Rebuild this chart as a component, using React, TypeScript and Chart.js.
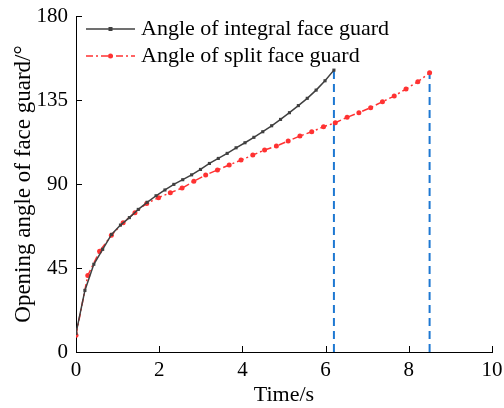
import React, { useEffect, useRef } from "react";
import { Chart, registerables } from "chart.js";

Chart.register(...registerables);

// Time samples (s) and opening angle (°) for the integral face guard
const integralTime = [
  0, 0.214, 0.428, 0.641, 0.855, 1.069, 1.283, 1.497, 1.71, 1.924,
  2.138, 2.352, 2.566, 2.779, 2.993, 3.207, 3.421, 3.634, 3.848, 4.062,
  4.276, 4.49, 4.703, 4.917, 5.131, 5.345, 5.559, 5.772, 5.986, 6.2,
];
const integralAngle = [
  10, 33, 47, 55, 63, 68, 72, 76.4, 80.2, 83.7,
  86.8, 89.8, 92.3, 94.9, 97.8, 101, 103.7, 106.4, 109.4, 112.1,
  115, 118, 121.2, 124.6, 128.2, 132, 135.9, 140.3, 145.3, 151,
];

// Time samples (s) and opening angle (°) for the split face guard
const splitTime = [
  0, 0.283, 0.567, 0.85, 1.133, 1.417, 1.7, 1.983, 2.267, 2.55,
  2.833, 3.117, 3.4, 3.683, 3.967, 4.25, 4.533, 4.817, 5.1, 5.383,
  5.667, 5.95, 6.233, 6.517, 6.8, 7.083, 7.367, 7.65, 7.933, 8.217, 8.5,
];
const splitAngle = [
  9, 41, 54, 62.5, 69.3, 74.6, 79.6, 82.7, 85.3, 87.8,
  91.5, 94.8, 97.5, 100.2, 102.8, 105.5, 108.2, 110.3, 113, 115.7,
  118, 120.7, 122.8, 125.7, 128.2, 130.9, 134.1, 137.1, 140.9, 144.8, 149.6,
];

const seriesLabels = ["Angle of integral face guard", "Angle of split face guard"];
const xTicks = [0, 2, 4, 6, 8, 10];
const yTicks = [0, 45, 90, 135, 180];

const FONT = "'Liberation Serif', 'Times New Roman', serif";
const BLACK = "rgb(64,64,64)";
const RED = "rgb(255,50,50)";
const BLUE = "rgb(30,120,210)";

const toPoints = (xs: number[], ys: number[]) => xs.map((x, i) => ({ x, y: ys[i] }));

const innerTicks = {
  id: "innerTicks",
  afterDraw(chart: any) {
    const { ctx, chartArea, scales } = chart;
    const len = 6;
    ctx.save();
    ctx.strokeStyle = "#000";
    ctx.lineWidth = 1;
    ctx.beginPath();
    xTicks.forEach((v) => {
      const px = Math.round(scales.x.getPixelForValue(v)) + 0.5;
      ctx.moveTo(px, chartArea.bottom);
      ctx.lineTo(px, chartArea.bottom - len);
    });
    yTicks.forEach((v) => {
      const py = Math.round(scales.y.getPixelForValue(v)) + 0.5;
      ctx.moveTo(chartArea.left, py);
      ctx.lineTo(chartArea.left + len, py);
    });
    ctx.stroke();
    ctx.restore();
  },
};

const lineLegend = {
  id: "lineLegend",
  afterDraw(chart: any) {
    const { ctx, chartArea } = chart;
    const x0 = chartArea.left + 10;
    const x1 = chartArea.left + 59;
    const rows = [
      { y: chartArea.top + 13, color: BLACK, dash: [] as number[], style: "rect", label: seriesLabels[0] },
      { y: chartArea.top + 40, color: RED, dash: [7, 3, 2, 3], style: "circle", label: seriesLabels[1] },
    ];
    ctx.save();
    rows.forEach((r) => {
      ctx.strokeStyle = r.color;
      ctx.lineWidth = 1.5;
      ctx.setLineDash(r.dash);
      ctx.beginPath();
      ctx.moveTo(x0, r.y);
      ctx.lineTo(x1, r.y);
      ctx.stroke();
      ctx.setLineDash([]);
      ctx.fillStyle = r.color;
      const cx = (x0 + x1) / 2;
      if (r.style === "rect") ctx.fillRect(cx - 2, r.y - 2, 4, 4);
      else {
        ctx.beginPath();
        ctx.arc(cx, r.y, 2.5, 0, Math.PI * 2);
        ctx.fill();
      }
      ctx.fillStyle = "#000";
      ctx.font = `22px ${FONT}`;
      ctx.textBaseline = "middle";
      ctx.textAlign = "left";
      ctx.fillText(r.label, chartArea.left + 65, r.y);
    });
    ctx.restore();
  },
};

export default function App() {
  const ref = useRef<HTMLCanvasElement>(null);
  useEffect(() => {
    if (!ref.current) return;
    const iEnd = integralTime.length - 1;
    const sEnd = splitTime.length - 1;
    const chart = new Chart(ref.current, {
      type: "line",
      data: {
        datasets: [
          {
            label: seriesLabels[0],
            data: toPoints(integralTime, integralAngle),
            borderColor: BLACK,
            backgroundColor: BLACK,
            borderWidth: 1.5,
            pointStyle: "rect",
            pointRadius: 2.2,
            pointBorderWidth: 0,
            tension: 0,
            order: 1,
          },
          {
            label: seriesLabels[1],
            data: toPoints(splitTime, splitAngle),
            borderColor: RED,
            backgroundColor: RED,
            borderWidth: 1.5,
            borderDash: [7, 3, 2, 3],
            pointStyle: "circle",
            pointRadius: 2.5,
            pointBorderWidth: 0,
            tension: 0,
            order: 2,
          },
          {
            label: "end-integral",
            data: [
              { x: integralTime[iEnd], y: 0 },
              { x: integralTime[iEnd], y: integralAngle[iEnd] },
            ],
            borderColor: BLUE,
            borderWidth: 2,
            borderDash: [8, 5],
            pointRadius: 0,
            order: 3,
          },
          {
            label: "end-split",
            data: [
              { x: splitTime[sEnd], y: 0 },
              { x: splitTime[sEnd], y: splitAngle[sEnd] },
            ],
            borderColor: BLUE,
            borderWidth: 2,
            borderDash: [8, 5],
            pointRadius: 0,
            order: 3,
          },
        ],
      },
      options: {
        responsive: false,
        animation: false,
        layout: { padding: { left: 0, top: 16, right: 12, bottom: 0 } },
        plugins: { legend: { display: false }, tooltip: { enabled: false } },
        scales: {
          x: {
            type: "linear",
            min: 0,
            max: 10,
            afterBuildTicks: (s: any) => {
              s.ticks = xTicks.map((v) => ({ value: v }));
            },
            afterFit: (s: any) => {
              s.height = 56;
              s.paddingLeft = 0;
              s.paddingRight = 0;
            },
            grid: { display: false, drawTicks: false },
            border: { display: true, color: "#000", width: 1 },
            ticks: { color: "#000", font: { family: FONT, size: 21 }, padding: 6, maxRotation: 0 },
            title: {
              display: true,
              text: "Time/s",
              color: "#000",
              font: { family: FONT, size: 22 },
              padding: { top: 0, bottom: 0 },
            },
          },
          y: {
            type: "linear",
            min: 0,
            max: 180,
            afterBuildTicks: (s: any) => {
              s.ticks = yTicks.map((v) => ({ value: v }));
            },
            afterFit: (s: any) => {
              s.width = 76;
              s.paddingTop = 0;
              s.paddingBottom = 0;
            },
            grid: { display: false, drawTicks: false },
            border: { display: true, color: "#000", width: 1 },
            ticks: { color: "#000", font: { family: FONT, size: 21 }, padding: 8 },
            title: {
              display: true,
              text: "Opening angle of face guard/°",
              color: "#000",
              font: { family: FONT, size: 23 },
              padding: { top: 10, bottom: 0 },
            },
          },
        },
      },
      plugins: [innerTicks, lineLegend],
    });
    return () => chart.destroy();
  }, []);
  return (
    <div style={{ position: "fixed", left: 0, top: 0, width: 504, height: 408, background: "#fff" }}>
      <canvas ref={ref} width={504} height={408} />
    </div>
  );
}
